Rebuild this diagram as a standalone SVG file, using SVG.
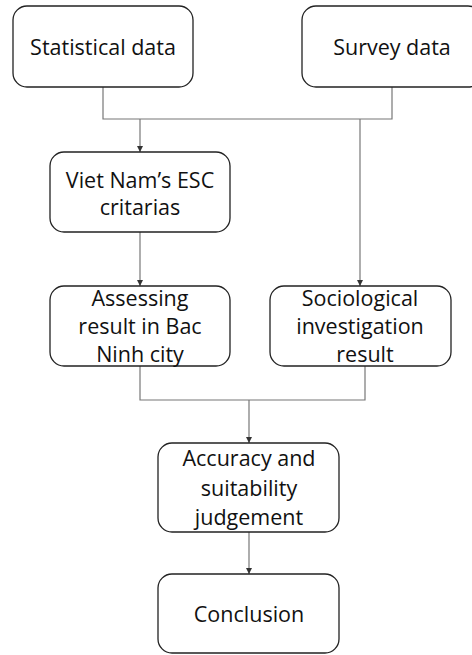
<svg xmlns="http://www.w3.org/2000/svg" width="472" height="655" viewBox="0 0 472 655">
<defs>
<marker id="ah" viewBox="0 0 6 6" refX="6" refY="3" markerWidth="6" markerHeight="6" markerUnits="userSpaceOnUse" orient="auto">
<path d="M0,0 L6,3 L0,6 z" fill="#333"/>
</marker>
<style>
.box{fill:#fff;stroke:#222;stroke-width:1.3}
.t{font-family:"Open Sans","Liberation Sans",sans-serif;font-size:21.5px;fill:#111;text-anchor:middle}
.c{fill:none;stroke:#777;stroke-width:1.2}
</style>
</defs>
<rect width="472" height="655" fill="#fff"/>
<g id="connectors">
<path class="c" d="M103,87 V119 H392 V87"/>
<path class="c" d="M140,119 V152" marker-end="url(#ah)"/>
<path class="c" d="M360,119 V286" marker-end="url(#ah)"/>
<path class="c" d="M140,232 V286" marker-end="url(#ah)"/>
<path class="c" d="M140,366 V400 H365 V366"/>
<path class="c" d="M249,400 V443" marker-end="url(#ah)"/>
<path class="c" d="M249,532 V574" marker-end="url(#ah)"/>
</g>
<g id="statistical">
<rect class="box" x="13" y="6" width="180" height="81" rx="14"/>
<text class="t" x="103" y="55">Statistical data</text>
</g>
<g id="survey">
<rect class="box" x="302" y="6" width="180" height="81" rx="14"/>
<text class="t" x="392" y="55">Survey data</text>
</g>
<g id="esc">
<rect class="box" x="50" y="152" width="180" height="80" rx="14"/>
<text class="t" x="140" y="188">Viet Nam’s ESC</text>
<text class="t" x="140" y="215">critarias</text>
</g>
<g id="assessing">
<rect class="box" x="50" y="286" width="180" height="80" rx="14"/>
<text class="t" x="140" y="306">Assessing</text>
<text class="t" x="140" y="334">result in Bac</text>
<text class="t" x="140" y="362">Ninh city</text>
</g>
<g id="sociological">
<rect class="box" x="270" y="286" width="181" height="80" rx="14"/>
<text class="t" x="360" y="306">Sociological</text>
<text class="t" x="360" y="334">investigation</text>
<text class="t" x="365" y="362">result</text>
</g>
<g id="accuracy">
<rect class="box" x="158" y="443" width="181" height="89" rx="14"/>
<text class="t" x="249" y="466">Accuracy and</text>
<text class="t" x="249" y="496">suitability</text>
<text class="t" x="249" y="525">judgement</text>
</g>
<g id="conclusion">
<rect class="box" x="158" y="574" width="181" height="79" rx="14"/>
<text class="t" x="249" y="622">Conclusion</text>
</g>
</svg>
